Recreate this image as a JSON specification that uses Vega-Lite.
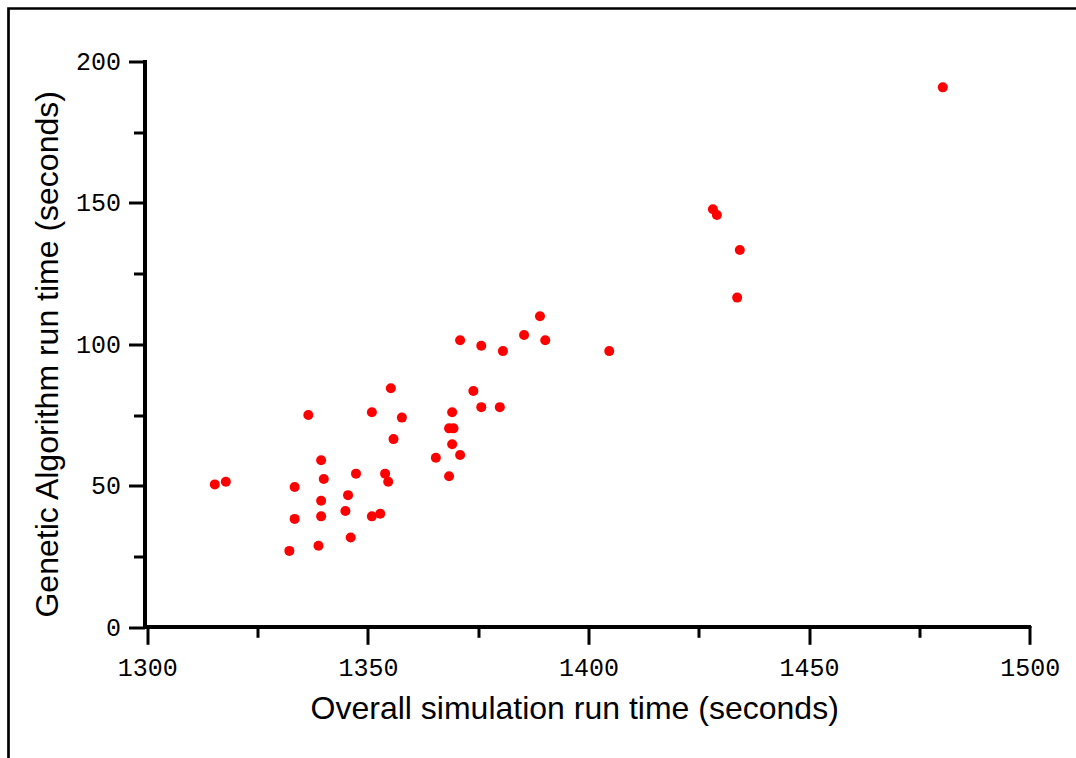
{
  "$schema": "https://vega.github.io/schema/vega-lite/v6.json",
  "width": 1070,
  "height": 752,
  "autosize": {"type": "none"},
  "padding": {"left": 8.5, "top": 8.5, "right": 0, "bottom": 0},
  "background": "white",
  "config": {
    "view": {"stroke": "black", "strokeWidth": 2.7},
    "axis": {"grid": false}
  },
  "data": {
    "values": [
      {"sim": 1315.3, "ga": 50.5},
      {"sim": 1317.8, "ga": 51.4},
      {"sim": 1336.5, "ga": 75.0},
      {"sim": 1333.4, "ga": 49.6},
      {"sim": 1333.4, "ga": 38.3},
      {"sim": 1339.4, "ga": 59.0},
      {"sim": 1340.0, "ga": 52.4},
      {"sim": 1339.4, "ga": 44.7},
      {"sim": 1339.4, "ga": 39.2},
      {"sim": 1332.2, "ga": 27.0},
      {"sim": 1338.8, "ga": 28.8},
      {"sim": 1347.3, "ga": 54.3},
      {"sim": 1345.5, "ga": 46.7},
      {"sim": 1344.9, "ga": 41.1},
      {"sim": 1346.1, "ga": 31.7},
      {"sim": 1350.9, "ga": 76.0},
      {"sim": 1355.2, "ga": 84.5},
      {"sim": 1357.7, "ga": 74.1},
      {"sim": 1355.8, "ga": 66.5},
      {"sim": 1353.9, "ga": 54.3},
      {"sim": 1354.6, "ga": 51.4},
      {"sim": 1350.9, "ga": 39.2},
      {"sim": 1352.8, "ga": 40.1},
      {"sim": 1389.0, "ga": 109.9},
      {"sim": 1370.9, "ga": 101.4},
      {"sim": 1385.4, "ga": 103.3},
      {"sim": 1390.2, "ga": 101.4},
      {"sim": 1375.7, "ga": 99.5},
      {"sim": 1380.6, "ga": 97.6},
      {"sim": 1404.7, "ga": 97.6},
      {"sim": 1373.9, "ga": 83.5},
      {"sim": 1375.7, "ga": 77.8},
      {"sim": 1379.9, "ga": 77.8},
      {"sim": 1369.1, "ga": 76.0},
      {"sim": 1368.4, "ga": 70.3},
      {"sim": 1369.4, "ga": 70.3},
      {"sim": 1369.1, "ga": 64.7},
      {"sim": 1370.9, "ga": 60.9},
      {"sim": 1365.4, "ga": 59.9},
      {"sim": 1368.4, "ga": 53.4},
      {"sim": 1428.2, "ga": 147.7},
      {"sim": 1429.1, "ga": 145.7},
      {"sim": 1434.3, "ga": 133.3},
      {"sim": 1433.7, "ga": 116.5},
      {"sim": 1480.3, "ga": 190.8}
    ]
  },
  "layer": [
    {
      "mark": {"type": "circle", "color": "#ff0000", "opacity": 1, "size": 100},
      "encoding": {
        "x": {
          "field": "sim",
          "type": "quantitative",
          "scale": {"domain": [1268.54, 1511.06], "nice": false, "zero": false},
          "axis": {
            "values": [1300, 1325, 1350, 1375, 1400, 1425, 1450, 1475, 1500],
            "offset": -133.2,
            "domain": false,
            "ticks": true,
            "tickColor": "black",
            "tickWidth": 3,
            "tickSize": {"condition": {"test": "datum.value % 50 === 0", "value": 17}, "value": 10},
            "labelExpr": "datum.value % 50 === 0 ? datum.label : ''",
            "format": "d",
            "labelFont": "Liberation Mono",
            "labelFontSize": 25,
            "labelColor": "black",
            "labelPadding": 11,
            "labelFlush": false,
            "labelOverlap": false,
            "labelBound": false,
            "title": "Overall simulation run time (seconds)",
            "titleFont": "Liberation Sans",
            "titleFontSize": 32,
            "titleFontWeight": "normal",
            "titleColor": "black",
            "titleX": 565.7,
            "titleY": 90.7,
            "titleBaseline": "alphabetic",
            "titleAlign": "center"
          }
        },
        "y": {
          "field": "ga",
          "type": "quantitative",
          "scale": {"domain": [-47.07, 218.66], "nice": false, "zero": false},
          "axis": {
            "values": [0, 25, 50, 75, 100, 125, 150, 175, 200],
            "offset": -136,
            "domain": false,
            "ticks": true,
            "tickColor": "black",
            "tickWidth": 3,
            "tickSize": {"condition": {"test": "datum.value % 50 === 0", "value": 16}, "value": 11},
            "labelExpr": "datum.value % 50 === 0 ? datum.label : ''",
            "format": "d",
            "labelFont": "Liberation Mono",
            "labelFontSize": 25,
            "labelColor": "black",
            "labelPadding": 8,
            "labelFlush": false,
            "labelOverlap": false,
            "labelBound": false,
            "title": "Genetic Algorithm run time (seconds)",
            "titleFont": "Liberation Sans",
            "titleFontSize": 32,
            "titleFontWeight": "normal",
            "titleColor": "black",
            "titleAngle": -90,
            "titleX": -87.5,
            "titleY": 345.3,
            "titleBaseline": "alphabetic",
            "titleAlign": "center"
          }
        }
      }
    },
    {
      "mark": {"type": "rule", "color": "black", "strokeWidth": 3},
      "encoding": {
        "x": {"datum": 1299.2, "type": "quantitative"},
        "x2": {"datum": 1500.3},
        "y": {"datum": 0, "type": "quantitative"}
      }
    },
    {
      "mark": {"type": "rule", "color": "black", "strokeWidth": 3},
      "encoding": {
        "x": {"datum": 1299.4, "type": "quantitative"},
        "y": {"datum": -0.5, "type": "quantitative"},
        "y2": {"datum": 200.3}
      }
    }
  ]
}
